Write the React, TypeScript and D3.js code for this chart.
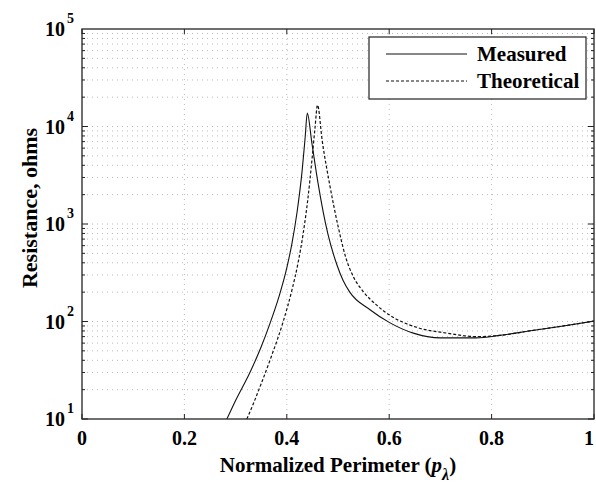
import React, { useEffect, useRef } from 'react';
import * as d3 from 'd3';

// Measured resistance vs normalized perimeter
const measuredP = [0.283, 0.30, 0.328, 0.35, 0.367, 0.385, 0.40, 0.41, 0.42, 0.43, 0.436, 0.44, 0.449, 0.461, 0.48, 0.498, 0.51, 0.523, 0.5625, 0.60, 0.647, 0.70, 0.77, 0.816, 0.88, 0.94, 1.0];
const measuredR = [10, 15.5, 30, 55, 95, 182, 355, 630, 1320, 3550, 7900, 13700, 6750, 2630, 800, 380, 263, 200, 132, 98, 76, 68, 68, 72, 81, 90, 101];

const theoreticalP = [0.322, 0.335, 0.35, 0.37, 0.393, 0.41, 0.422, 0.432, 0.441, 0.449, 0.455, 0.46, 0.469, 0.484, 0.50, 0.515, 0.53, 0.549, 0.575, 0.60, 0.654, 0.713, 0.77, 0.816, 0.88, 0.94, 1.0];
const theoreticalR = [10, 14.5, 23, 44, 100, 210, 400, 800, 1780, 4470, 9550, 16600, 7250, 2500, 955, 457, 288, 204, 148, 117, 87, 76, 70, 72, 81, 90, 101];

const xTicks = [0, 0.2, 0.4, 0.6, 0.8, 1];
const xTickLabels = ['0', '0.2', '0.4', '0.6', '0.8', '1'];
const yDecades = [1, 2, 3, 4, 5];

const legendItems = ['Measured', 'Theoretical'];

const W = 596;
const H = 490;

const App = () => {
  const svgRef = useRef<SVGSVGElement>(null);

  useEffect(() => {
    const svg = d3.select(svgRef.current);
    svg.selectAll('*').remove();

    const left = 82, right = 594, top = 29, bottom = 419;
    const font = '"Liberation Serif", "Times New Roman", serif';

    const x = d3.scaleLinear().domain([0, 1]).range([left, right]);
    const y = d3.scaleLog().domain([10, 1e5]).range([bottom, top]);

    svg.append('rect').attr('width', W).attr('height', H).attr('fill', '#fff');

    // clip
    svg.append('defs').append('clipPath').attr('id', 'plot-clip')
      .append('rect')
      .attr('x', left).attr('y', top)
      .attr('width', right - left).attr('height', bottom - top);

    // grid
    const grid = svg.append('g');
    const minorVals: number[] = [];
    for (let e = 1; e < 5; e++) {
      for (let m = 1; m < 10; m++) minorVals.push(m * Math.pow(10, e));
    }
    grid.selectAll('.gy')
      .data(minorVals.filter(v => v > 10))
      .join('line')
      .attr('x1', left).attr('x2', right)
      .attr('y1', d => y(d)).attr('y2', d => y(d))
      .attr('stroke', '#a8a8a8')
      .attr('stroke-width', 0.8)
      .attr('stroke-dasharray', '1,4');
    grid.selectAll('.gx')
      .data(xTicks.slice(1, -1))
      .join('line')
      .attr('x1', d => x(d)).attr('x2', d => x(d))
      .attr('y1', top).attr('y2', bottom)
      .attr('stroke', '#a8a8a8')
      .attr('stroke-width', 0.8)
      .attr('stroke-dasharray', '1,4');

    // curves
    const line = d3.line<[number, number]>()
      .x(d => x(d[0]))
      .y(d => y(d[1]))
      .curve(d3.curveMonotoneX);

    const plot = svg.append('g').attr('clip-path', 'url(#plot-clip)');
    plot.append('path')
      .datum(measuredP.map((p, i) => [p, measuredR[i]] as [number, number]))
      .attr('fill', 'none')
      .attr('stroke', '#111')
      .attr('stroke-width', 1.1)
      .attr('d', line);
    plot.append('path')
      .datum(theoreticalP.map((p, i) => [p, theoreticalR[i]] as [number, number]))
      .attr('fill', 'none')
      .attr('stroke', '#111')
      .attr('stroke-width', 1.2)
      .attr('stroke-dasharray', '3,2')
      .attr('d', line);

    // frame
    svg.append('rect')
      .attr('x', left).attr('y', top)
      .attr('width', right - left).attr('height', bottom - top)
      .attr('fill', 'none')
      .attr('stroke', '#222')
      .attr('stroke-width', 1.3);

    // ticks (inward, all four sides)
    const ticks = svg.append('g').attr('stroke', '#222').attr('stroke-width', 1);
    xTicks.forEach(t => {
      ticks.append('line').attr('x1', x(t)).attr('x2', x(t)).attr('y1', bottom).attr('y2', bottom - 5);
      ticks.append('line').attr('x1', x(t)).attr('x2', x(t)).attr('y1', top).attr('y2', top + 5);
    });
    minorVals.forEach(v => {
      const len = Math.log10(v) % 1 === 0 ? 6 : 3;
      ticks.append('line').attr('x1', left).attr('x2', left + len).attr('y1', y(v)).attr('y2', y(v));
      ticks.append('line').attr('x1', right).attr('x2', right - len).attr('y1', y(v)).attr('y2', y(v));
    });

    // x tick labels (last one nudged in so it stays on the page)
    svg.append('g')
      .selectAll('text')
      .data(xTicks)
      .join('text')
      .attr('x', d => Math.min(x(d), W - 7))
      .attr('y', 445)
      .attr('text-anchor', 'middle')
      .style('font-family', font)
      .style('font-weight', 'bold')
      .style('font-size', '20px')
      .text((d, i) => xTickLabels[i]);

    // y tick labels 10^n
    const yl = svg.append('g')
      .selectAll('g')
      .data(yDecades)
      .join('g')
      .attr('transform', d => `translate(0, ${y(Math.pow(10, d))})`);
    yl.append('text')
      .attr('x', 65)
      .attr('y', 7)
      .attr('text-anchor', 'end')
      .style('font-family', font)
      .style('font-weight', 'bold')
      .style('font-size', '20px')
      .text('10');
    yl.append('text')
      .attr('x', 67)
      .attr('y', -6)
      .style('font-family', font)
      .style('font-weight', 'bold')
      .style('font-size', '14px')
      .text(d => String(d));

    // axis labels
    const xl = svg.append('text')
      .attr('x', 338)
      .attr('y', 472)
      .attr('text-anchor', 'middle')
      .style('font-family', font)
      .style('font-weight', 'bold')
      .style('font-size', '21px');
    xl.append('tspan').text('Normalized Perimeter (');
    xl.append('tspan').style('font-style', 'italic').text('p');
    xl.append('tspan').attr('dy', 8).style('font-style', 'italic').style('font-size', '16px').text('λ');
    xl.append('tspan').attr('dy', -8).text(')');

    svg.append('text')
      .attr('transform', `translate(37, 208) rotate(-90)`)
      .attr('text-anchor', 'middle')
      .style('font-family', font)
      .style('font-weight', 'bold')
      .style('font-size', '22px')
      .text('Resistance, ohms');

    // legend
    const lg = svg.append('g');
    lg.append('rect')
      .attr('x', 369).attr('y', 37)
      .attr('width', 217).attr('height', 62)
      .attr('fill', '#fff')
      .attr('stroke', '#222')
      .attr('stroke-width', 1.2);
    legendItems.forEach((name, i) => {
      const ly = 54 + i * 27;
      lg.append('line')
        .attr('x1', 386).attr('x2', 467)
        .attr('y1', ly).attr('y2', ly)
        .attr('stroke', '#111')
        .attr('stroke-width', 1.1)
        .attr('stroke-dasharray', i === 0 ? null : '3,2');
      lg.append('text')
        .attr('x', 477)
        .attr('y', ly + 7)
        .style('font-family', font)
        .style('font-weight', 'bold')
        .style('font-size', '21px')
        .text(name);
    });
  }, []);

  return (
    <>
      <style>{'body{margin:0}'}</style>
      <svg ref={svgRef} width={W} height={H} style={{ display: 'block' }}></svg>
    </>
  );
};

export default App;
